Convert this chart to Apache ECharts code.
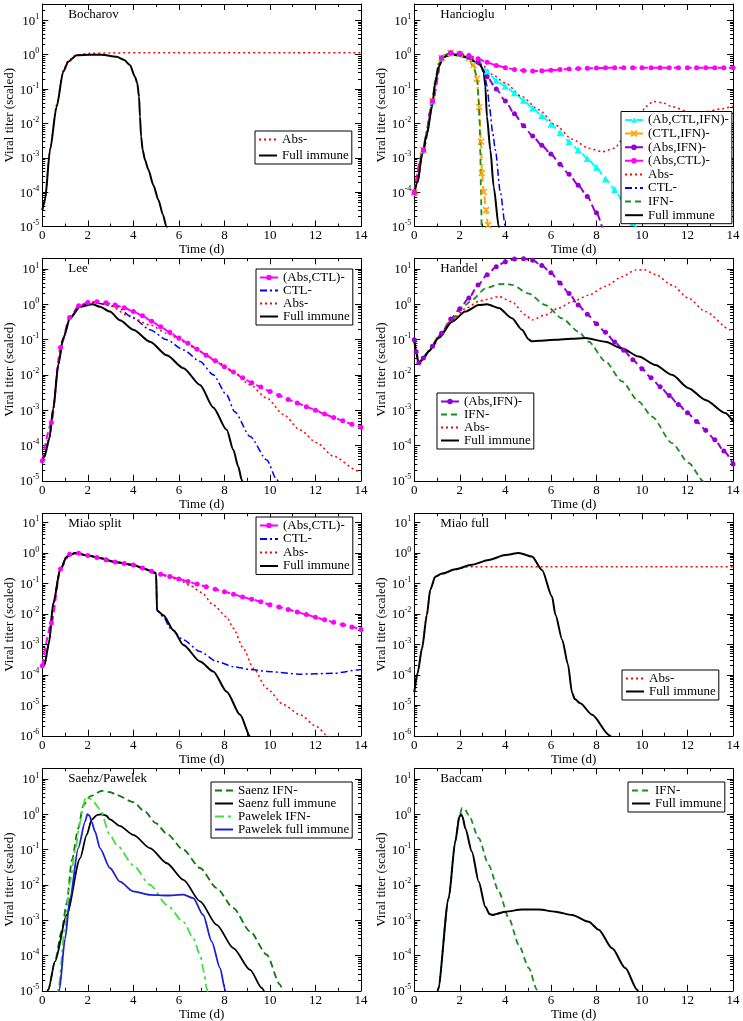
<!DOCTYPE html>
<html lang="en">
  <head>
    <meta charset="UTF-8" />
    <title>Viral titer panels</title>
    <script src="https://cdn.jsdelivr.net/npm/echarts@6.0.0/dist/echarts.min.js"></script>
    <style>
      html, body { margin: 0; background: #fff; }
    </style>
  </head>
  <body>
    <div id="main" style="width: 743px; height: 1021px"></div>
    <script type="text/javascript">
      // ---- data (time in days, titer scaled) ----
      const t04 = [0, 0.4, 0.8, 1.2, 1.6, 2, 2.4, 2.8, 3.2, 3.6, 4, 4.4, 4.8, 5.2, 5.6, 6, 6.4, 6.8, 7.2, 7.6, 8, 8.4, 8.8, 9.2, 9.6, 10, 10.4, 10.8, 11.2, 11.6, 12, 12.4, 12.8, 13.2, 13.6, 14];

      // Bocharov
      const bocFullT = [0, 0.12, 0.34, 0.63, 0.92, 1.14, 1.51, 2.1, 2.6, 3.27, 3.6, 3.85, 4.07, 4.17, 4.25, 4.29, 4.34, 4.41, 4.51, 4.66, 4.88, 5.1, 5.3, 5.45, 5.6];
      const bocFullV = [3e-5, 6e-5, 1.7e-3, 0.031, 0.32, 0.63, 0.97, 1.0, 1.0, 0.87, 0.7, 0.5, 0.23, 0.15, 0.06, 0.016, 4.2e-3, 1.7e-3, 8.7e-4, 4.5e-4, 1.6e-4, 5.9e-5, 2.2e-5, 1.0e-5, 5e-6];
      const bocAbsT = [0, 0.12, 0.34, 0.63, 0.92, 1.14, 1.51, 2.1, 3, 5, 8, 11, 14];
      const bocAbsV = [3e-5, 6e-5, 1.8e-3, 0.035, 0.34, 0.68, 1.0, 1.1, 1.13, 1.15, 1.15, 1.15, 1.15];

      // Hancioglu
      const hanFullT = [0, 0.15, 0.34, 0.56, 0.78, 0.92, 1.07, 1.29, 1.66, 2.24, 2.68, 2.9, 3.05, 3.12, 3.19, 3.34, 3.49, 3.71, 3.8];
      const hanFullV = [1e-4, 2e-4, 1.2e-3, 5e-3, 0.031, 0.15, 0.45, 0.87, 1.0, 0.87, 0.63, 0.5, 0.32, 0.12, 0.016, 1.7e-3, 1.4e-4, 1e-5, 5e-6];
      const hanCtlT = [0, 0.15, 0.34, 0.56, 0.78, 0.92, 1.07, 1.29, 1.66, 2.24, 2.68, 2.9, 3.05, 3.2, 3.3, 3.45, 3.56, 3.78, 4.0, 4.1];
      const hanCtlV = [1e-4, 2e-4, 1.2e-3, 5e-3, 0.031, 0.15, 0.45, 0.87, 1.0, 0.87, 0.63, 0.5, 0.35, 0.12, 0.03, 5e-3, 1.7e-3, 1e-4, 1e-5, 4e-6];
      const hanIfnT = [0, 0.15, 0.34, 0.56, 0.78, 0.92, 1.07, 1.29, 1.5, 2.0, 2.4, 2.6, 2.75, 2.83, 2.87, 2.9, 2.93, 2.96];
      const hanIfnV = [1e-4, 2e-4, 1.3e-3, 6e-3, 0.04, 0.18, 0.55, 0.95, 1.08, 1.0, 0.75, 0.45, 0.23, 0.048, 0.01, 1.2e-3, 1e-4, 5e-6];
      const hanCtlIfnT = [0, 0.4, 0.8, 1.2, 1.6, 2.0, 2.4, 2.6, 2.75, 2.85, 2.93, 2.97, 3.05, 3.15, 3.24, 3.3];
      const hanCtlIfnV = [1e-4, 1.7e-3, 0.045, 0.8, 1.12, 1.05, 0.8, 0.5, 0.2, 0.03, 3e-3, 3.6e-4, 1e-4, 3e-5, 1.1e-5, 6e-6];
      const hanAbsIfnT = [0, 0.4, 0.8, 1.2, 1.6, 2, 2.4, 2.8, 3.2, 3.6, 4, 4.4, 4.8, 5.2, 5.6, 6, 6.4, 6.8, 7.2, 7.6, 8, 8.4];
      const hanAbsIfnV = [1e-4, 1.7e-3, 0.045, 0.8, 1.12, 1.05, 0.85, 0.6, 0.23, 0.1, 0.045, 0.019, 8.5e-3, 4.3e-3, 2.3e-3, 1.3e-3, 6.5e-4, 3.3e-4, 1.6e-4, 7.5e-5, 2.5e-5, 4e-6];
      const hanAbCtlIfnT = [0, 0.4, 0.8, 1.2, 1.6, 2, 2.4, 2.8, 3.2, 3.6, 4, 4.4, 4.8, 5.2, 5.6, 6, 6.4, 6.8, 7.2, 7.6, 8, 8.4, 8.8, 9.2, 9.6, 10];
      const hanAbCtlIfnV = [1e-4, 1.7e-3, 0.045, 0.8, 1.15, 1.1, 0.95, 0.72, 0.33, 0.18, 0.12, 0.078, 0.047, 0.028, 0.017, 9.5e-3, 5.4e-3, 3e-3, 1.7e-3, 9.5e-4, 5.3e-4, 2.4e-4, 1.2e-4, 4.8e-5, 1.3e-5, 3e-6];
      const hanAbsCtlV = [1e-4, 1.7e-3, 0.045, 0.8, 1.15, 1.1, 0.95, 0.76, 0.6, 0.49, 0.42, 0.37, 0.345, 0.335, 0.34, 0.355, 0.37, 0.385, 0.395, 0.405, 0.41, 0.415, 0.42, 0.42, 0.42, 0.42, 0.42, 0.42, 0.42, 0.42, 0.42, 0.42, 0.42, 0.42, 0.42, 0.42];
      const hanAbsT = [0, 0.34, 0.56, 0.78, 0.92, 1.07, 1.29, 1.66, 2.24, 2.68, 3.0, 3.41, 4.0, 4.73, 5.47, 6.2, 6.93, 7.66, 8.25, 8.8, 9.13, 9.5, 9.86, 10.2, 10.5, 10.9, 11.32, 12.05, 12.78, 13.52, 14];
      const hanAbsV = [1e-4, 1.3e-3, 6e-3, 0.038, 0.18, 0.55, 0.95, 1.1, 0.95, 0.72, 0.5, 0.27, 0.15, 0.06, 0.025, 9e-3, 3.5e-3, 1.9e-3, 1.5e-3, 1.9e-3, 3.3e-3, 7.5e-3, 0.016, 0.032, 0.044, 0.04, 0.031, 0.022, 0.022, 0.027, 0.032];

      // Lee
      const leeFullT = [0, 0.1, 0.31, 0.48, 0.7, 0.92, 1.22, 1.66, 2.2, 2.53, 2.97, 3.41, 4.0, 4.73, 5.47, 6.2, 6.93, 7.51, 8.1, 8.39, 8.61, 8.76, 8.9];
      const leeFullV = [3.7e-5, 5e-5, 1.6e-4, 1.1e-3, 0.019, 0.11, 0.4, 0.85, 1.0, 0.85, 0.62, 0.35, 0.19, 0.087, 0.036, 0.0155, 5.2e-3, 1.2e-3, 2.8e-4, 7.6e-5, 2.5e-5, 1.07e-5, 5e-6];
      const leeCtlT = [0, 0.1, 0.31, 0.48, 0.7, 0.92, 1.22, 1.66, 2.3, 2.75, 3.27, 4.0, 4.73, 5.47, 6.2, 6.93, 7.51, 8.1, 8.45, 9.13, 9.86, 10.3, 10.5];
      const leeCtlV = [3.7e-5, 5e-5, 1.6e-4, 1.1e-3, 0.019, 0.11, 0.42, 0.9, 1.1, 1.0, 0.85, 0.4, 0.19, 0.098, 0.051, 0.024, 0.01, 2.7e-3, 9e-4, 1.8e-4, 3.9e-5, 1.07e-5, 6e-6];
      const leeAbsT = [0, 0.1, 0.31, 0.48, 0.7, 0.92, 1.22, 1.66, 2.3, 3.0, 3.71, 4.73, 5.47, 6.2, 6.93, 7.66, 8.39, 9.13, 9.86, 10.6, 11.32, 12.05, 12.78, 13.88, 14];
      const leeAbsV = [3.7e-5, 5e-5, 1.6e-4, 1.1e-3, 0.019, 0.11, 0.42, 0.92, 1.15, 0.9, 0.5, 0.26, 0.15, 0.087, 0.046, 0.024, 0.0123, 5.2e-3, 2.2e-3, 7.5e-4, 2.75e-4, 1.2e-4, 5e-5, 1.9e-5, 1.7e-5];
      const leeAbsCtlV = [3.7e-5, 4.5e-4, 0.06, 0.42, 0.9, 1.12, 1.18, 1.1, 0.95, 0.8, 0.62, 0.47, 0.33, 0.23, 0.16, 0.11, 0.078, 0.053, 0.036, 0.025, 0.017, 0.012, 8.3e-3, 6e-3, 4.5e-3, 3.4e-3, 2.6e-3, 2e-3, 1.6e-3, 1.25e-3, 1e-3, 7.8e-4, 6.2e-4, 5e-4, 4e-4, 3.3e-4];

      // Handel
      const hndFullT = [0, 0.08, 0.19, 0.35, 0.63, 1.07, 1.66, 2.24, 2.83, 3.19, 3.71, 4.29, 4.73, 5.03, 5.15, 5.5, 6.2, 6.9, 7.51, 8.39, 9.13, 9.86, 10.59, 11.32, 12.05, 12.79, 13.66, 14];
      const hndFullV = [0.098, 0.045, 0.021, 0.027, 0.046, 0.11, 0.32, 0.62, 0.95, 1.0, 0.78, 0.4, 0.19, 0.1, 0.09, 0.092, 0.098, 0.105, 0.11, 0.087, 0.056, 0.033, 0.019, 0.01, 4.2e-3, 1.95e-3, 8.3e-4, 4.8e-4];
      const hndIfnT = [0, 0.08, 0.19, 0.35, 0.63, 1.07, 1.66, 2.24, 2.53, 3.12, 3.71, 4.0, 4.29, 5.03, 5.76, 6.49, 7.22, 7.66, 8.39, 9.13, 9.86, 10.44, 11.32, 12.05, 12.72, 12.9];
      const hndIfnV = [0.098, 0.045, 0.021, 0.028, 0.048, 0.12, 0.38, 0.95, 1.32, 2.8, 3.7, 3.75, 3.55, 2.0, 0.95, 0.4, 0.166, 0.087, 0.024, 6.5e-3, 1.74e-3, 6.6e-4, 1.17e-4, 3.2e-5, 9.5e-6, 6e-6];
      const hndAbsT = [0, 0.08, 0.19, 0.35, 0.63, 1.07, 1.66, 2.24, 2.83, 3.12, 3.71, 4.29, 4.88, 5.17, 5.76, 6.34, 6.93, 7.66, 8.39, 9.13, 9.71, 10.1, 10.59, 11.32, 12.05, 12.79, 13.88, 14];
      const hndAbsV = [0.098, 0.045, 0.021, 0.028, 0.047, 0.12, 0.36, 0.75, 1.2, 1.35, 1.65, 1.17, 0.5, 0.36, 0.5, 0.78, 1.17, 1.8, 3.2, 6.0, 9.3, 9.5, 7.0, 3.5, 1.48, 0.62, 0.19, 0.17];
      const hndAbsIfnT = [0, 0.08, 0.2, 0.4, 0.8, 1.2, 1.6, 2, 2.4, 2.8, 3.2, 3.6, 4, 4.4, 4.8, 5.2, 5.6, 6, 6.4, 6.8, 7.2, 7.6, 8, 8.4, 8.8, 9.2, 9.6, 10, 10.4, 10.8, 11.2, 11.6, 12, 12.4, 12.8, 13.2, 13.6, 14];
      const hndAbsIfnV = [0.098, 0.045, 0.022, 0.03, 0.065, 0.15, 0.38, 0.75, 1.5, 3.5, 6.8, 11.5, 16, 19, 19.5, 17.5, 12.5, 7.8, 4.0, 2.0, 0.95, 0.52, 0.28, 0.16, 0.085, 0.05, 0.027, 0.015, 8.3e-3, 4.6e-3, 2.6e-3, 1.45e-3, 8.5e-4, 4.8e-4, 2.7e-4, 1.45e-4, 7e-5, 3e-5];

      // Miao split
      const msFullT = [0, 0.1, 0.3, 0.48, 0.78, 1.07, 1.44, 2.0, 2.54, 3.2, 4.0, 4.5, 4.95, 5.0, 5.04, 5.32, 5.76, 6.2, 6.93, 7.51, 8.1, 8.69, 9.13, 9.3];
      const msFullV = [2e-4, 2.2e-4, 1.2e-3, 0.022, 0.27, 0.75, 1.0, 0.82, 0.68, 0.5, 0.4, 0.3, 0.22, 0.21, 0.013, 9e-3, 2.9e-3, 9.5e-4, 2.75e-4, 1.3e-4, 2.8e-5, 4.9e-6, 9.5e-7, 6e-7];
      const msCtlT = [0, 0.1, 0.3, 0.48, 0.78, 1.07, 1.44, 2.0, 2.54, 3.2, 4.0, 4.5, 4.95, 5.0, 5.04, 5.32, 5.61, 6.2, 6.93, 7.66, 8.39, 9.13, 9.86, 11.32, 12.78, 13.88, 14];
      const msCtlV = [2e-4, 2.2e-4, 1.2e-3, 0.022, 0.27, 0.75, 1.0, 0.82, 0.68, 0.5, 0.4, 0.3, 0.22, 0.21, 0.013, 8e-3, 3.4e-3, 1.4e-3, 5.8e-4, 2.75e-4, 1.86e-4, 1.5e-4, 1.3e-4, 1.05e-4, 1.12e-4, 1.45e-4, 1.5e-4];
      const msAbsT = [0, 0.1, 0.3, 0.48, 0.78, 1.07, 1.44, 2.0, 2.54, 3.2, 4.0, 4.5, 4.95, 5.5, 6.0, 6.5, 7.0, 7.5, 8.1, 8.39, 8.83, 9.27, 9.86, 10.59, 11.32, 12.05, 12.57, 12.8];
      const msAbsV = [2e-4, 2.2e-4, 1.2e-3, 0.022, 0.27, 0.75, 1.0, 0.82, 0.68, 0.5, 0.4, 0.3, 0.22, 0.17, 0.13, 0.085, 0.05, 0.02, 8e-3, 3.4e-3, 7.4e-4, 1.66e-4, 3.6e-5, 1.05e-5, 4.9e-6, 2e-6, 9.5e-7, 6e-7];
      const msAbsCtlV = [2e-4, 5e-3, 0.3, 0.9, 0.97, 0.82, 0.71, 0.6, 0.5, 0.45, 0.4, 0.32, 0.25, 0.2, 0.17, 0.14, 0.115, 0.095, 0.078, 0.064, 0.053, 0.044, 0.036, 0.03, 0.025, 0.02, 0.017, 0.014, 0.0115, 9.5e-3, 7.8e-3, 6.4e-3, 5.3e-3, 4.4e-3, 3.7e-3, 3.1e-3];

      // Miao full
      const mfFullT = [0, 0.15, 0.34, 0.55, 0.7, 0.92, 1.22, 1.8, 2.53, 3.27, 4.0, 4.59, 5.17, 5.61, 6.05, 6.2, 6.5, 6.75, 6.93, 7.05, 7.29, 7.81, 8.57, 8.7];
      const mfFullV = [2.7e-5, 1.2e-4, 7.4e-4, 9e-3, 0.062, 0.166, 0.21, 0.29, 0.41, 0.59, 0.85, 1.0, 0.76, 0.275, 0.037, 9.3e-3, 1.4e-3, 2.2e-4, 2.6e-5, 1.6e-5, 1.17e-5, 4.9e-6, 1.05e-6, 8e-7];
      const mfAbsT = [0, 0.15, 0.34, 0.55, 0.7, 0.92, 1.22, 1.8, 2.3, 2.6, 6, 10, 14];
      const mfAbsV = [2.7e-5, 1.2e-4, 7.4e-4, 9e-3, 0.062, 0.166, 0.21, 0.29, 0.345, 0.355, 0.355, 0.355, 0.355];

      // Saenz / Pawelek
      const spSaenzFullT = [0.1, 0.26, 0.56, 1.07, 1.66, 1.95, 2.17, 2.4, 2.6, 2.8, 2.97, 3.4, 4.0, 4.73, 5.47, 6.2, 6.93, 7.66, 8.39, 9.13, 9.64, 9.8];
      const spSaenzFullV = [5e-6, 1.07e-5, 6.8e-5, 1.4e-3, 0.056, 0.26, 0.7, 0.95, 1.0, 0.92, 0.72, 0.47, 0.26, 0.11, 0.041, 0.0138, 3.4e-3, 7.4e-4, 1.62e-4, 3.9e-5, 1.2e-5, 8e-6];
      const spSaenzIfnT = [0.1, 0.26, 0.56, 0.85, 1.07, 1.3, 1.58, 1.8, 2.1, 2.61, 3.0, 3.27, 4.0, 4.5, 5.0, 5.47, 6.2, 6.93, 7.66, 8.39, 9.13, 9.86, 10.44, 10.6];
      const spSaenzIfnV = [5e-6, 1.07e-5, 7e-5, 5e-4, 3e-3, 0.05, 0.4, 1.8, 3.2, 4.6, 4.2, 3.5, 2.2, 1.2, 0.55, 0.28, 0.098, 0.03, 8.1e-3, 2.2e-3, 4.8e-4, 1.05e-4, 1.5e-5, 8e-6];
      const spPawIfnT = [0.6, 0.7, 1.0, 1.22, 1.45, 1.66, 1.8, 1.9, 2.0, 2.17, 2.53, 2.97, 3.27, 4.0, 4.73, 5.47, 6.2, 6.63, 6.93, 7.1, 7.22, 7.3];
      const spPawIfnV = [4e-6, 1.07e-5, 7e-4, 0.012, 0.1, 0.6, 1.8, 2.9, 3.0, 2.6, 1.4, 0.26, 0.135, 0.036, 0.01, 2.7e-3, 9e-4, 3.1e-4, 1.05e-4, 3.5e-5, 1.2e-5, 7e-6];
      const spPawFullT = [0.65, 0.75, 1.0, 1.22, 1.58, 1.88, 1.98, 2.08, 2.17, 2.32, 2.53, 2.97, 3.41, 4.0, 4.73, 5.47, 6.2, 6.63, 7.07, 7.44, 7.81, 8.03, 8.1];
      const spPawFullV = [4e-6, 1.07e-5, 3e-4, 4.2e-3, 0.11, 0.62, 1.0, 0.9, 0.6, 0.32, 0.11, 0.03, 0.0123, 6.5e-3, 5.2e-3, 5.0e-3, 5.3e-3, 4.2e-3, 1.4e-3, 2.5e-4, 4.4e-5, 1.07e-5, 7e-6];

      // Baccam
      const bacFullT = [0.95, 1.04, 1.51, 1.8, 1.98, 2.05, 2.12, 2.24, 2.53, 2.83, 3.12, 3.3, 3.45, 3.6, 4.0, 4.73, 5.47, 6.2, 6.93, 7.66, 8.1, 8.69, 9.27, 9.79, 9.85];
      const bacFullV = [5e-6, 1.07e-5, 4.2e-3, 0.17, 0.85, 1.0, 0.85, 0.4, 0.087, 0.0123, 2.4e-3, 1.5e-3, 1.4e-3, 1.5e-3, 1.74e-3, 2.0e-3, 2.0e-3, 1.74e-3, 1.4e-3, 9e-4, 5.4e-4, 1.6e-4, 4.4e-5, 1.07e-5, 9e-6];
      const bacIfnT = [0.95, 1.04, 1.51, 1.8, 1.98, 2.1, 2.2, 2.39, 2.83, 3.27, 3.71, 4.15, 4.59, 5.03, 5.39, 5.45];
      const bacIfnV = [5e-6, 1.07e-5, 4.2e-3, 0.17, 0.9, 1.5, 1.45, 0.95, 0.21, 0.036, 6.5e-3, 1.15e-3, 2e-4, 4.4e-5, 1.07e-5, 9e-6];

      // ---- layout / styles ----
      const FONT = '"Liberation Serif", "DejaVu Serif", serif';
      const colLeft = [42.3, 414.3];
      const rowTop = [4, 258.3, 513.3, 768.3];
      const plotW = 318.7;
      const plotH = 222.5;

      const crossPath = "path://M0,0L10,10M10,0L0,10";
      const styles = {
        abs: { color: "#ff0000", type: [2, 3], width: 1.5 },
        full: { color: "#000000", type: "solid", width: 2 },
        ctl: { color: "#0000ff", type: [7, 3, 2, 3], width: 1.5 },
        ifn: { color: "#1c8c1c", type: [6, 4], width: 1.8 },
        absCtl: { color: "#ff00ff", type: [7, 4], width: 2, symbol: "circle", size: 5 },
        absIfn: { color: "#9400d3", type: [7, 4], width: 2, symbol: "circle", size: 5 },
        abCtlIfn: { color: "#00ffff", type: [7, 4], width: 2, symbol: "triangle", size: 7 },
        ctlIfn: { color: "#ffa500", type: [7, 4], width: 2, symbol: crossPath, size: 6 },
        saenzIfn: { color: "#0a780a", type: [7, 4], width: 1.8 },
        saenzFull: { color: "#000000", type: "solid", width: 1.8 },
        pawIfn: { color: "#3fe03f", type: [9, 4, 3, 4], width: 1.8 },
        pawFull: { color: "#1f1fd0", type: "solid", width: 1.8 },
      };

      const panels = [
        { title: "Bocharov", yMin: 1e-5, yMax: 30, legend: [255, 131], gap: 3, lines: [
          ["Abs-", bocAbsT, bocAbsV, "abs"],
          ["Full immune", bocFullT, bocFullV, "full"] ] },
        { title: "Hancioglu", yMin: 1e-5, yMax: 30, legend: [621, 111.5], gap: 0.6, lines: [
          ["(Ab,CTL,IFN)-", hanAbCtlIfnT, hanAbCtlIfnV, "abCtlIfn"],
          ["(CTL,IFN)-", hanCtlIfnT, hanCtlIfnV, "ctlIfn"],
          ["(Abs,IFN)-", hanAbsIfnT, hanAbsIfnV, "absIfn"],
          ["(Abs,CTL)-", t04, hanAbsCtlV, "absCtl"],
          ["Abs-", hanAbsT, hanAbsV, "abs"],
          ["CTL-", hanCtlT, hanCtlV, "ctl"],
          ["IFN-", hanIfnT, hanIfnV, "ifn"],
          ["Full immune", hanFullT, hanFullV, "full"] ] },
        { title: "Lee", yMin: 1e-5, yMax: 20, legend: [256, 269], gap: 0, lines: [
          ["(Abs,CTL)-", t04, leeAbsCtlV, "absCtl"],
          ["CTL-", leeCtlT, leeCtlV, "ctl"],
          ["Abs-", leeAbsT, leeAbsV, "abs"],
          ["Full immune", leeFullT, leeFullV, "full"] ] },
        { title: "Handel", yMin: 1e-5, yMax: 20, legend: [437, 393], gap: 0, lines: [
          ["(Abs,IFN)-", hndAbsIfnT, hndAbsIfnV, "absIfn"],
          ["IFN-", hndIfnT, hndIfnV, "ifn"],
          ["Abs-", hndAbsT, hndAbsV, "abs"],
          ["Full immune", hndFullT, hndFullV, "full"] ] },
        { title: "Miao split", yMin: 1e-6, yMax: 20, legend: [256, 517], gap: 0.5, lines: [
          ["(Abs,CTL)-", t04, msAbsCtlV, "absCtl"],
          ["CTL-", msCtlT, msCtlV, "ctl"],
          ["Abs-", msAbsT, msAbsV, "abs"],
          ["Full immune", msFullT, msFullV, "full"] ] },
        { title: "Miao full", yMin: 1e-6, yMax: 20, legend: [622, 670], gap: 0, lines: [
          ["Abs-", mfAbsT, mfAbsV, "abs"],
          ["Full immune", mfFullT, mfFullV, "full"] ] },
        { title: "Saenz/Pawelek", yMin: 1e-5, yMax: 20, legend: [211, 782], gap: 0, lines: [
          ["Saenz IFN-", spSaenzIfnT, spSaenzIfnV, "saenzIfn"],
          ["Saenz full immune", spSaenzFullT, spSaenzFullV, "saenzFull"],
          ["Pawelek IFN-", spPawIfnT, spPawIfnV, "pawIfn"],
          ["Pawelek full immune", spPawFullT, spPawFullV, "pawFull"] ] },
        { title: "Baccam", yMin: 1e-5, yMax: 20, legend: [628, 782], gap: 0, lines: [
          ["IFN-", bacIfnT, bacIfnV, "ifn"],
          ["Full immune", bacFullT, bacFullV, "full"] ] },
      ];

      function powLabel(v) {
        const e = Math.log10(v);
        const r = Math.round(e);
        if (Math.abs(e - r) > 1e-6) return "";
        return "{b|10}{s|" + r + "}";
      }

      const grid = [], xAxis = [], yAxis = [], series = [], title = [], legend = [];
      const n = panels.length;

      panels.forEach((p, i) => {
        const left = colLeft[i % 2];
        const top = rowTop[Math.floor(i / 2)];
        grid.push({ left: left, top: top, width: plotW, height: plotH, outerBoundsMode: "none" });
        title.push({
          text: p.title, left: left + 26, top: top + 4, padding: 0,
          textStyle: { fontFamily: FONT, fontSize: 13, fontWeight: "normal", color: "#000" },
        });

        const tick = { inside: true, length: 6, lineStyle: { color: "#000", width: 1 } };
        const line = { show: true, onZero: false, lineStyle: { color: "#000", width: 1 } };

        xAxis[i] = {
          type: "value", gridIndex: i, min: 0, max: 14, interval: 2, position: "bottom",
          axisLine: line, axisTick: tick,
          minorTick: { show: true, splitNumber: 2, length: 3, lineStyle: { color: "#000" } },
          splitLine: { show: false },
          axisLabel: { margin: 3, fontFamily: FONT, fontSize: 13, color: "#000" },
          name: "Time (d)", nameLocation: "middle", nameGap: 15,
          nameTextStyle: { fontFamily: FONT, fontSize: 13, color: "#000" },
        };
        xAxis[n + i] = {
          type: "value", gridIndex: i, min: 0, max: 14, interval: 2, position: "top",
          axisLine: line, axisTick: tick,
          minorTick: { show: true, splitNumber: 2, length: 3, lineStyle: { color: "#000" } },
          splitLine: { show: false }, axisLabel: { show: false },
        };
        const rich = {
          b: { fontFamily: FONT, fontSize: 13, color: "#000", lineHeight: 15, verticalAlign: "bottom" },
          s: { fontFamily: FONT, fontSize: 8, color: "#000", lineHeight: 8, verticalAlign: "top" },
        };
        yAxis[i] = {
          type: "log", logBase: 10, gridIndex: i, min: p.yMin, max: p.yMax, position: "left",
          axisLine: line, axisTick: tick,
          minorTick: { show: true, splitNumber: 9, length: 3, lineStyle: { color: "#000" } },
          splitLine: { show: false },
          axisLabel: { margin: 3, formatter: powLabel, rich: rich },
          name: "Viral titer (scaled)", nameLocation: "middle", nameGap: 26,
          nameTextStyle: { fontFamily: FONT, fontSize: 13, color: "#000" },
        };
        yAxis[n + i] = {
          type: "log", logBase: 10, gridIndex: i, min: p.yMin, max: p.yMax, position: "right",
          axisLine: line, axisTick: tick,
          minorTick: { show: true, splitNumber: 9, length: 3, lineStyle: { color: "#000" } },
          splitLine: { show: false }, axisLabel: { show: false },
        };

        const items = [];
        p.lines.forEach(([name, t, v, key]) => {
          const st = styles[key];
          const id = i + "|" + name;
          // line-only sets get no marker in the legend either
          items.push(st.symbol ? { name: id } : { name: id, itemStyle: { opacity: 0 } });
          series.push({
            type: "line", name: id, xAxisIndex: i, yAxisIndex: i,
            data: t.map((x, k) => [x, v[k]]),
            smooth: 0.25, smoothMonotone: "x", clip: true,
            symbol: st.symbol || "none", symbolSize: st.size || 0, showSymbol: !!st.symbol,
            lineStyle: { color: st.color, width: st.width, type: st.type },
            itemStyle: { color: st.color, borderColor: st.color, borderWidth: st.symbol === crossPath ? 1.5 : 0 },
            emphasis: { disabled: true },
          });
        });

        legend.push({
          data: items, orient: "vertical", left: p.legend[0], top: p.legend[1],
          itemWidth: 18, itemHeight: 7, itemGap: p.gap, padding: [2, 3, 2, 3],
          backgroundColor: "#fff", borderColor: "#000", borderWidth: 1, borderRadius: 0,
          selectedMode: false,
          formatter: (nm) => nm.split("|")[1],
          textStyle: { fontFamily: FONT, fontSize: 13, color: "#000", lineHeight: 13 },
        });
      });

      const options = {
        backgroundColor: "#fff",
        animation: false,
        title: title,
        grid: grid,
        xAxis: xAxis,
        yAxis: yAxis,
        legend: legend,
        series: series,
      };

      let myChart = echarts.init(document.getElementById("main"), null, { renderer: "canvas" });
      myChart.setOption(options);
    </script>
  </body>
</html>
